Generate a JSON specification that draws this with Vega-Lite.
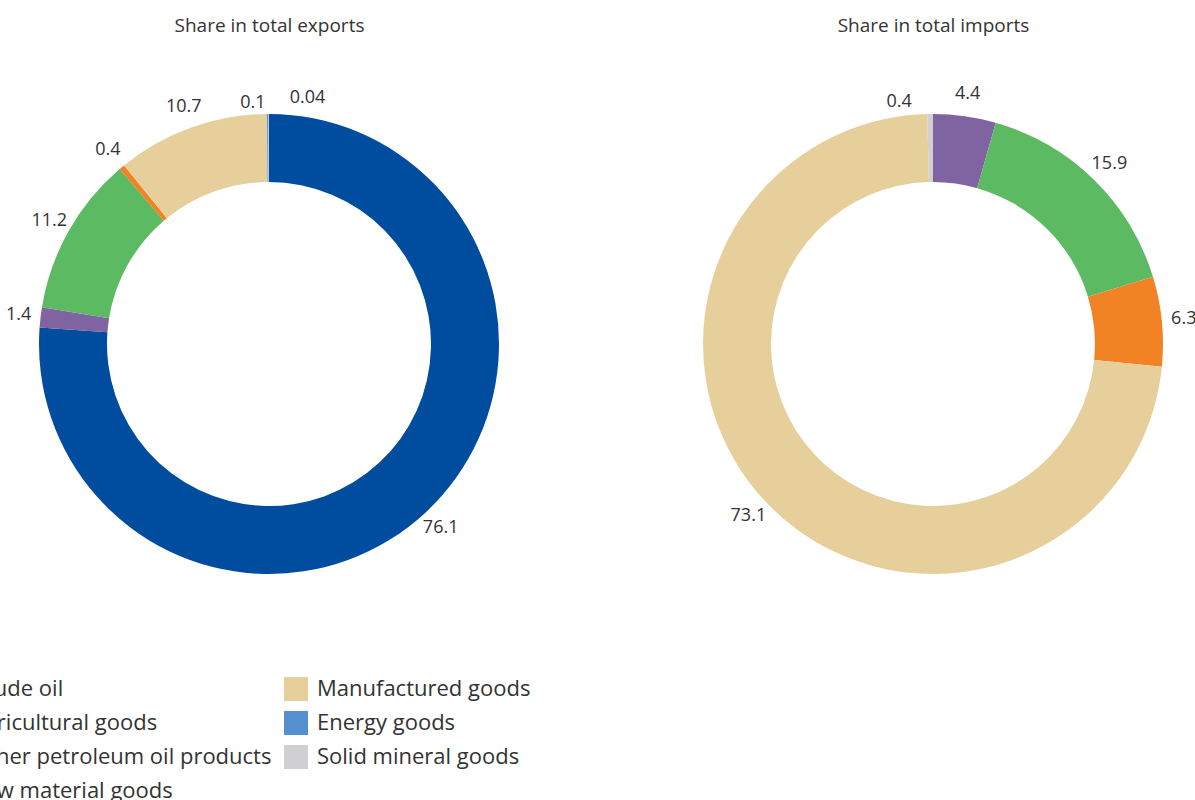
{
  "$schema": "https://vega.github.io/schema/vega-lite/v6.json",
  "autosize": {"type": "none"},
  "width": 1195,
  "height": 612,
  "padding": {"left": 0, "top": 38, "right": 0, "bottom": 150},
  "background": "white",
  "config": {"view": {"stroke": null}, "font": "Open Sans"},
  "data": {"values": [
    {"panel": "Share in total exports", "category": "Crude oil", "share": 76.1},
    {"panel": "Share in total exports", "category": "Raw material goods", "share": 1.4},
    {"panel": "Share in total exports", "category": "Agricultural goods", "share": 11.2},
    {"panel": "Share in total exports", "category": "Other petroleum oil products", "share": 0.4},
    {"panel": "Share in total exports", "category": "Manufactured goods", "share": 10.7},
    {"panel": "Share in total exports", "category": "Energy goods", "share": 0.1},
    {"panel": "Share in total exports", "category": "Solid mineral goods", "share": 0.04},
    {"panel": "Share in total imports", "category": "Raw material goods", "share": 4.4},
    {"panel": "Share in total imports", "category": "Agricultural goods", "share": 15.9},
    {"panel": "Share in total imports", "category": "Other petroleum oil products", "share": 6.3},
    {"panel": "Share in total imports", "category": "Manufactured goods", "share": 73.1},
    {"panel": "Share in total imports", "category": "Solid mineral goods", "share": 0.4}
  ]},
  "transform": [
    {"calculate": "indexof(['Crude oil','Raw material goods','Agricultural goods','Other petroleum oil products','Manufactured goods','Energy goods','Solid mineral goods'], datum.category)", "as": "ord"},
    {"stack": "share", "groupby": ["panel"], "sort": [{"field": "ord", "order": "ascending"}], "offset": "normalize", "as": ["t0", "t1"]},
    {"calculate": "(datum.t0 + datum.t1) / 2", "as": "tm"}
  ],
  "encoding": {
    "x": {
      "field": "panel", "type": "nominal",
      "scale": {"type": "point", "range": [269, 933], "padding": 0},
      "axis": {"orient": "top", "title": null, "domain": false, "ticks": false, "grid": false, "labelAngle": 0, "labelFont": "Open Sans", "labelFontSize": 19, "labelColor": "#333333", "labelPadding": 3, "labelLimit": 400}
    }
  },
  "layer": [
    {
      "mark": {"type": "arc", "outerRadius": 230, "innerRadius": 162},
      "encoding": {
        "theta": {"field": "t0", "type": "quantitative", "scale": {"domain": [0, 1]}},
        "theta2": {"field": "t1"},
        "color": {
          "field": "category", "type": "nominal",
          "scale": {
            "domain": ["Crude oil", "Agricultural goods", "Other petroleum oil products", "Raw material goods", "Manufactured goods", "Energy goods", "Solid mineral goods"],
            "range": ["#004C9E", "#5CBA62", "#F28325", "#8064A2", "#E6CF9B", "#5591D0", "#D0D0D2"]
          },
          "legend": {
            "orient": "none", "legendX": -62, "legendY": 639, "columns": 2, "title": null,
            "symbolType": "square", "symbolSize": 576, "symbolStrokeWidth": 0,
            "labelFont": "Open Sans", "labelFontSize": 22, "labelColor": "#333333", "labelLimit": 400,
            "labelOffset": 9, "rowPadding": 10, "columnPadding": 12
          }
        }
      }
    },
    {
      "transform": [{"filter": "datum.share >= 0.3 && !(datum.panel == 'Share in total imports' && datum.category == 'Solid mineral goods')"}],
      "mark": {"type": "text", "radius": 252, "fontSize": 18, "color": "#333333", "font": "Open Sans"},
      "encoding": {
        "theta": {"field": "tm", "type": "quantitative"},
        "text": {"field": "share", "type": "nominal"}
      }
    },
    {
      "transform": [{"filter": "datum.panel == 'Share in total exports' && datum.category == 'Energy goods'"}],
      "mark": {"type": "text", "radius": 252, "fontSize": 18, "color": "#333333", "font": "Open Sans", "align": "right", "dx": -2, "dy": 11},
      "encoding": {
        "theta": {"field": "tm", "type": "quantitative"},
        "text": {"field": "share", "type": "nominal"}
      }
    },
    {
      "transform": [{"filter": "datum.panel == 'Share in total exports' && datum.category == 'Solid mineral goods'"}],
      "mark": {"type": "text", "radius": 252, "fontSize": 18, "color": "#333333", "font": "Open Sans", "align": "left", "dx": 21, "dy": 6},
      "encoding": {
        "theta": {"field": "tm", "type": "quantitative"},
        "text": {"field": "share", "type": "nominal"}
      }
    },
    {
      "transform": [{"filter": "datum.panel == 'Share in total imports' && datum.category == 'Solid mineral goods'"}],
      "mark": {"type": "text", "radius": 252, "fontSize": 18, "color": "#333333", "font": "Open Sans", "align": "right", "dx": -18, "dy": 10},
      "encoding": {
        "theta": {"field": "tm", "type": "quantitative"},
        "text": {"field": "share", "type": "nominal"}
      }
    }
  ]
}
